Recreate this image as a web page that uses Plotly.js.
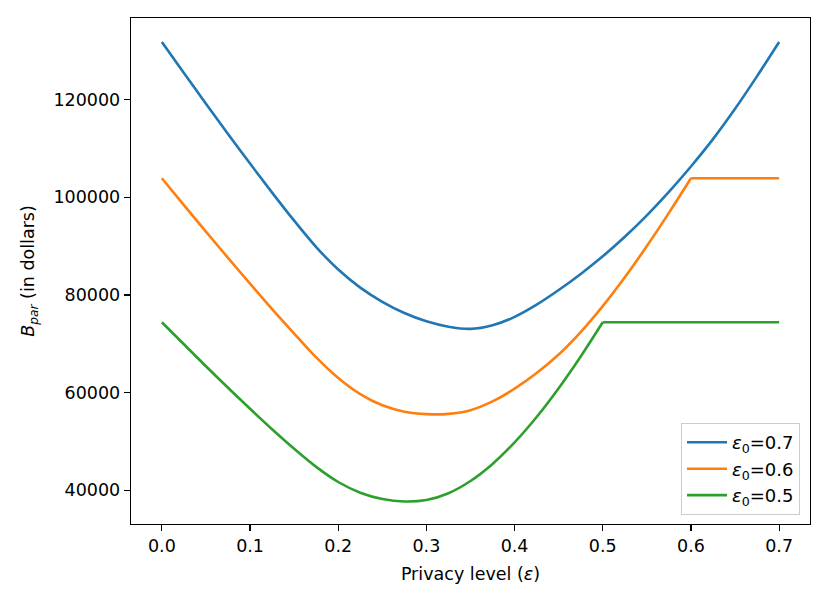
<!DOCTYPE html>
<html>
<head>
<meta charset="utf-8">
<script src="https://cdn.plot.ly/plotly-3.0.1.min.js"></script>
<style>
  body { margin: 0; background: #fff; }
  #chart { width: 830px; height: 599px; }
</style>
</head>
<body>
<div id="chart"></div>
<script>
// Privacy level (epsilon) grid
var eps = [0.0, 0.025, 0.05, 0.075, 0.1, 0.125, 0.15, 0.175, 0.2, 0.225,
    0.25, 0.275, 0.3, 0.325, 0.35, 0.375, 0.4, 0.425, 0.45, 0.475,
    0.5, 0.525, 0.55, 0.575, 0.6, 0.625, 0.65, 0.675, 0.7];

// B_par values (dollars)
var bpar07 = [131800, 125450, 119150, 112950, 106900, 100950, 95200, 89800, 85200, 81500,
    78600, 76300, 74600, 73500, 73050, 73800, 75500, 78000, 81000, 84300,
    87900, 91900, 96300, 101100, 106300, 111900, 118100, 124800, 131800];
var bpar06 = [103900, 98400, 92950, 87600, 82300, 77100, 72100, 67200, 63000, 59700,
    57400, 56100, 55600, 55650, 56400, 58200, 60800, 64000, 67800, 72400,
    77700, 83600, 90000, 96800, 103900, 103900, 103900, 103900, 103900];
var bpar05 = [74400, 69900, 65400, 61000, 56700, 52500, 48500, 44800, 41700, 39500,
    38200, 37700, 38000, 39400, 41900, 45400, 49800, 55000, 60900, 67400,
    74400, 74400, 74400, 74400, 74400, 74400, 74400, 74400, 74400];

// index where each curve reaches eps = eps0, after that it stays flat
var capIndex = [28, 24, 20];

var seriesNames = ["<i>ε</i><sub>0</sub>=0.7", "<i>ε</i><sub>0</sub>=0.6", "<i>ε</i><sub>0</sub>=0.5"];
var seriesColors = ["#1f77b4", "#ff7f0e", "#2ca02c"];

var xTicks = [0.0, 0.1, 0.2, 0.3, 0.4, 0.5, 0.6, 0.7];
var yTicks = [40000, 60000, 80000, 100000, 120000];

var font = "DejaVu Sans, sans-serif";

// curved part is smoothed, the flat part is drawn as a straight segment
function makeTraces(y, i) {
    var k = capIndex[i];
    var out = [{
        x: eps.slice(0, k + 1),
        y: y.slice(0, k + 1),
        type: "scatter",
        mode: "lines",
        name: seriesNames[i],
        legendgroup: "g" + i,
        line: { color: seriesColors[i], width: 2.6, shape: "spline", smoothing: 0.8 }
    }];
    if (k < eps.length - 1) {
        out.push({
            x: eps.slice(k),
            y: y.slice(k),
            type: "scatter",
            mode: "lines",
            name: seriesNames[i],
            legendgroup: "g" + i,
            showlegend: false,
            line: { color: seriesColors[i], width: 2.6 }
        });
    }
    return out;
}

var traces = [].concat(makeTraces(bpar07, 0), makeTraces(bpar06, 1), makeTraces(bpar05, 2));

var axisStyle = {
    showline: true,
    mirror: true,
    linecolor: "#000",
    linewidth: 1.3,
    ticks: "outside",
    ticklen: 6,
    tickwidth: 1.2,
    tickcolor: "#000",
    showgrid: false,
    zeroline: false,
    tickfont: { family: font, size: 17.5, color: "#000" }
};

var layout = {
    width: 830,
    height: 599,
    margin: { l: 131, r: 20, t: 18, b: 75 },
    paper_bgcolor: "#fff",
    plot_bgcolor: "#fff",
    font: { family: font, color: "#000" },
    xaxis: Object.assign({}, axisStyle, {
        range: [-0.035, 0.735],
        tickvals: xTicks,
        tickformat: ".1f",
        title: { text: "Privacy level (<i>ε</i>)", font: { family: font, size: 17.5 }, standoff: 12 }
    }),
    yaxis: Object.assign({}, axisStyle, {
        range: [33100, 136700],
        tickvals: yTicks,
        tickformat: "d",
        title: { text: "<i>B</i><sub><i>par</i></sub> (in dollars)", font: { family: font, size: 17.5 }, standoff: 14 }
    }),
    showlegend: true,
    legend: {
        x: 0.985,
        y: 0.018,
        xanchor: "right",
        yanchor: "bottom",
        bgcolor: "rgba(255,255,255,0.8)",
        bordercolor: "#cccccc",
        borderwidth: 1.2,
        font: { family: font, size: 18, color: "#000" },
        itemwidth: 40,
        tracegroupgap: 0
    }
};

Plotly.newPlot("chart", traces, layout, { displayModeBar: false, staticPlot: true });
</script>
</body>
</html>
